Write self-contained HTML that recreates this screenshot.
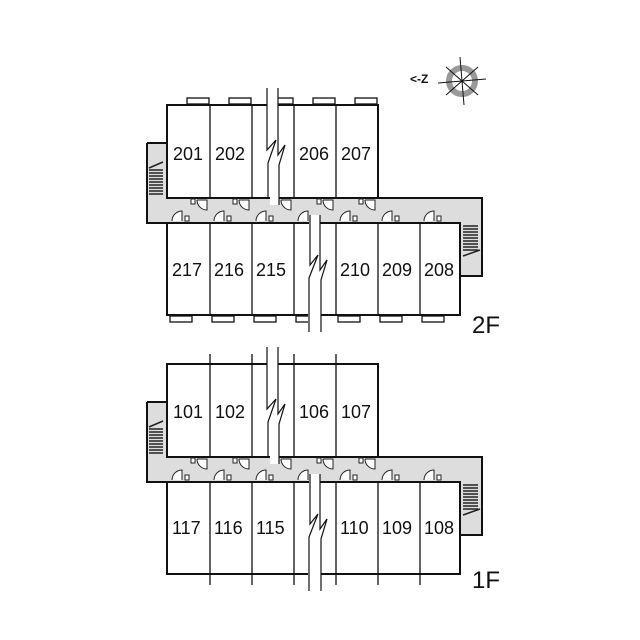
<!DOCTYPE html>
<html><head><meta charset="utf-8"><style>
html,body{margin:0;padding:0;background:#fff}
svg{display:block}
text{font-family:"Liberation Sans",sans-serif;font-size:18px;fill:#111}
</style></head><body>
<svg width="640" height="640" viewBox="0 0 640 640" xmlns="http://www.w3.org/2000/svg">
<defs>
<g id="stairL" stroke="#222" stroke-width="1.5">
<line x1="149" y1="170" x2="163" y2="170"/><line x1="149" y1="173" x2="163" y2="173"/><line x1="149" y1="176" x2="163" y2="176"/><line x1="149" y1="179" x2="163" y2="179"/><line x1="149" y1="182" x2="163" y2="182"/><line x1="149" y1="185" x2="163" y2="185"/><line x1="149" y1="188" x2="163" y2="188"/><line x1="149" y1="191" x2="163" y2="191"/><line x1="149" y1="194" x2="163" y2="194"/>
<line x1="149" y1="168" x2="163" y2="162"/>
</g>
<g id="stairR" stroke="#222" stroke-width="1.5">
<line x1="463" y1="226" x2="478" y2="226"/><line x1="463" y1="229" x2="478" y2="229"/><line x1="463" y1="232" x2="478" y2="232"/><line x1="463" y1="235" x2="478" y2="235"/><line x1="463" y1="238" x2="478" y2="238"/><line x1="463" y1="241" x2="478" y2="241"/><line x1="463" y1="244" x2="478" y2="244"/><line x1="463" y1="247" x2="478" y2="247"/><line x1="463" y1="250" x2="478" y2="250"/>
<line x1="463" y1="256" x2="480" y2="250"/>
</g>
<g id="doors" fill="#fff" stroke="#222" stroke-width="1">
<path d="M172 221 A10 10 0 0 1 182 211 L182 221"/><rect x="185" y="216" width="4" height="5"/>
<path d="M214 221 A10 10 0 0 1 224 211 L224 221"/><rect x="227" y="216" width="4" height="5"/>
<path d="M256 221 A10 10 0 0 1 266 211 L266 221"/><rect x="269" y="216" width="4" height="5"/>
<path d="M298 221 A10 10 0 0 1 308 211 L308 221"/>
<path d="M340 221 A10 10 0 0 1 350 211 L350 221"/><rect x="353" y="216" width="4" height="5"/>
<path d="M382 221 A10 10 0 0 1 392 211 L392 221"/><rect x="395" y="216" width="4" height="5"/>
<path d="M424 221 A10 10 0 0 1 434 211 L434 221"/><rect x="437" y="216" width="4" height="5"/>
<rect x="191" y="199" width="4" height="5"/><path d="M197 200 L207 200 L207 210 A10 10 0 0 1 197 200"/>
<rect x="233" y="199" width="4" height="5"/><path d="M239 200 L249 200 L249 210 A10 10 0 0 1 239 200"/>
<path d="M281 200 L291 200 L291 210 A10 10 0 0 1 281 200"/>
<rect x="317" y="199" width="4" height="5"/><path d="M323 200 L333 200 L333 210 A10 10 0 0 1 323 200"/>
<rect x="359" y="199" width="4" height="5"/><path d="M365 200 L375 200 L375 210 A10 10 0 0 1 365 200"/>
</g>
<g id="floor">
<path d="M147 143 H167 V198 H482 V276 H460 V223 H147 Z" fill="#ddd"/>
<rect x="167" y="105" width="211" height="93" fill="#fff" stroke="#111" stroke-width="2"/>
<rect x="167" y="223" width="293" height="92" fill="#fff" stroke="#111" stroke-width="2"/>
<g stroke="#111" stroke-width="1.3">
<line x1="210" y1="105" x2="210" y2="198"/><line x1="252" y1="105" x2="252" y2="198"/><line x1="294" y1="105" x2="294" y2="198"/><line x1="336" y1="105" x2="336" y2="198"/>
<line x1="210" y1="223" x2="210" y2="315"/><line x1="252" y1="223" x2="252" y2="315"/><line x1="294" y1="223" x2="294" y2="315"/><line x1="336" y1="223" x2="336" y2="315"/><line x1="378" y1="223" x2="378" y2="315"/><line x1="420" y1="223" x2="420" y2="315"/>
</g>
<path d="M147 143 H167 M147 143 V223 H167 M378 198 H482 V276 H460" fill="none" stroke="#111" stroke-width="2"/>
<use href="#stairL"/><use href="#stairR"/><use href="#doors"/>
</g>
</defs>

<!-- 2F -->
<use href="#floor"/>
<g fill="#fff" stroke="#111" stroke-width="1.3">
<rect x="187" y="98" width="22" height="6"/><rect x="229" y="98" width="22" height="6"/><rect x="277" y="98" width="16" height="6"/><rect x="313" y="98" width="22" height="6"/><rect x="355" y="98" width="22" height="6"/>
<rect x="170" y="316" width="22" height="6"/><rect x="212" y="316" width="22" height="6"/><rect x="254" y="316" width="22" height="6"/><rect x="296" y="316" width="14" height="6"/><rect x="338" y="316" width="22" height="6"/><rect x="380" y="316" width="22" height="6"/><rect x="422" y="316" width="22" height="6"/>
</g>
<path d="M267 88 V152 L276 140 L270 165 V205 H279 V165 L285 150 L278 158 V88 Z" fill="#fff" stroke="none"/>
<path d="M267 88 V150 L276 140 L268 163 V198 M278 88 V155 L285 145 L279 165 V205" fill="none" stroke="#111" stroke-width="1.2"/>
<path d="M309 215 V268 L316 256 L308 280 V332 H321 V275 L326 262 L320 270 V215 Z" fill="#fff"/>
<path d="M310 215 V265 L318 255 L309 278 V332 M320 215 V270 L327 260 L321 280 V332" fill="none" stroke="#111" stroke-width="1.2"/>
<text x="173" y="160">201</text><text x="215" y="160">202</text><text x="299" y="160">206</text><text x="341" y="160">207</text>
<text x="172" y="276">217</text><text x="214" y="276">216</text><text x="256" y="276">215</text><text x="340" y="276">210</text><text x="382" y="276">209</text><text x="424" y="276">208</text>
<text x="472" y="333" style="font-size:24px">2F</text>

<!-- 1F -->
<g transform="translate(0,259)"><use href="#floor"/>
<g stroke="#111" stroke-width="1.3">
<line x1="210" y1="95" x2="210" y2="105"/><line x1="252" y1="95" x2="252" y2="105"/><line x1="294" y1="95" x2="294" y2="105"/><line x1="336" y1="95" x2="336" y2="105"/>
<line x1="210" y1="315" x2="210" y2="326"/><line x1="252" y1="315" x2="252" y2="326"/><line x1="294" y1="315" x2="294" y2="326"/><line x1="336" y1="315" x2="336" y2="326"/><line x1="378" y1="315" x2="378" y2="326"/><line x1="420" y1="315" x2="420" y2="326"/>
</g>
<path d="M267 88 V152 L276 140 L270 165 V205 H279 V165 L285 150 L278 158 V88 Z" fill="#fff"/>
<path d="M267 88 V150 L276 140 L268 163 V198 M278 88 V155 L285 145 L279 165 V205" fill="none" stroke="#111" stroke-width="1.2"/>
<path d="M309 215 V268 L316 256 L308 280 V332 H321 V275 L326 262 L320 270 V215 Z" fill="#fff"/>
<path d="M310 215 V265 L318 255 L309 278 V332 M320 215 V270 L327 260 L321 280 V332" fill="none" stroke="#111" stroke-width="1.2"/>
</g>
<text x="173" y="418">101</text><text x="215" y="418">102</text><text x="299" y="418">106</text><text x="341" y="418">107</text>
<text x="172" y="534">117</text><text x="214" y="534">116</text><text x="256" y="534">115</text><text x="340" y="534">110</text><text x="382" y="534">109</text><text x="424" y="534">108</text>
<text x="472" y="588" style="font-size:24px">1F</text>

<!-- compass -->
<g transform="translate(462,81)">
<circle r="13" fill="none" stroke="#999" stroke-width="6"/>
<g stroke="#111" stroke-width="1">
<line x1="-2" y1="-24" x2="2" y2="24"/><line x1="-24" y1="2" x2="24" y2="-2"/>
<line x1="-16" y1="-14" x2="16" y2="14"/><line x1="-16" y1="14" x2="16" y2="-14"/>
</g>
<text x="-52" y="2" style="font-size:12px;font-weight:bold">&lt;-Z</text>
</g>
</svg>
</body></html>
